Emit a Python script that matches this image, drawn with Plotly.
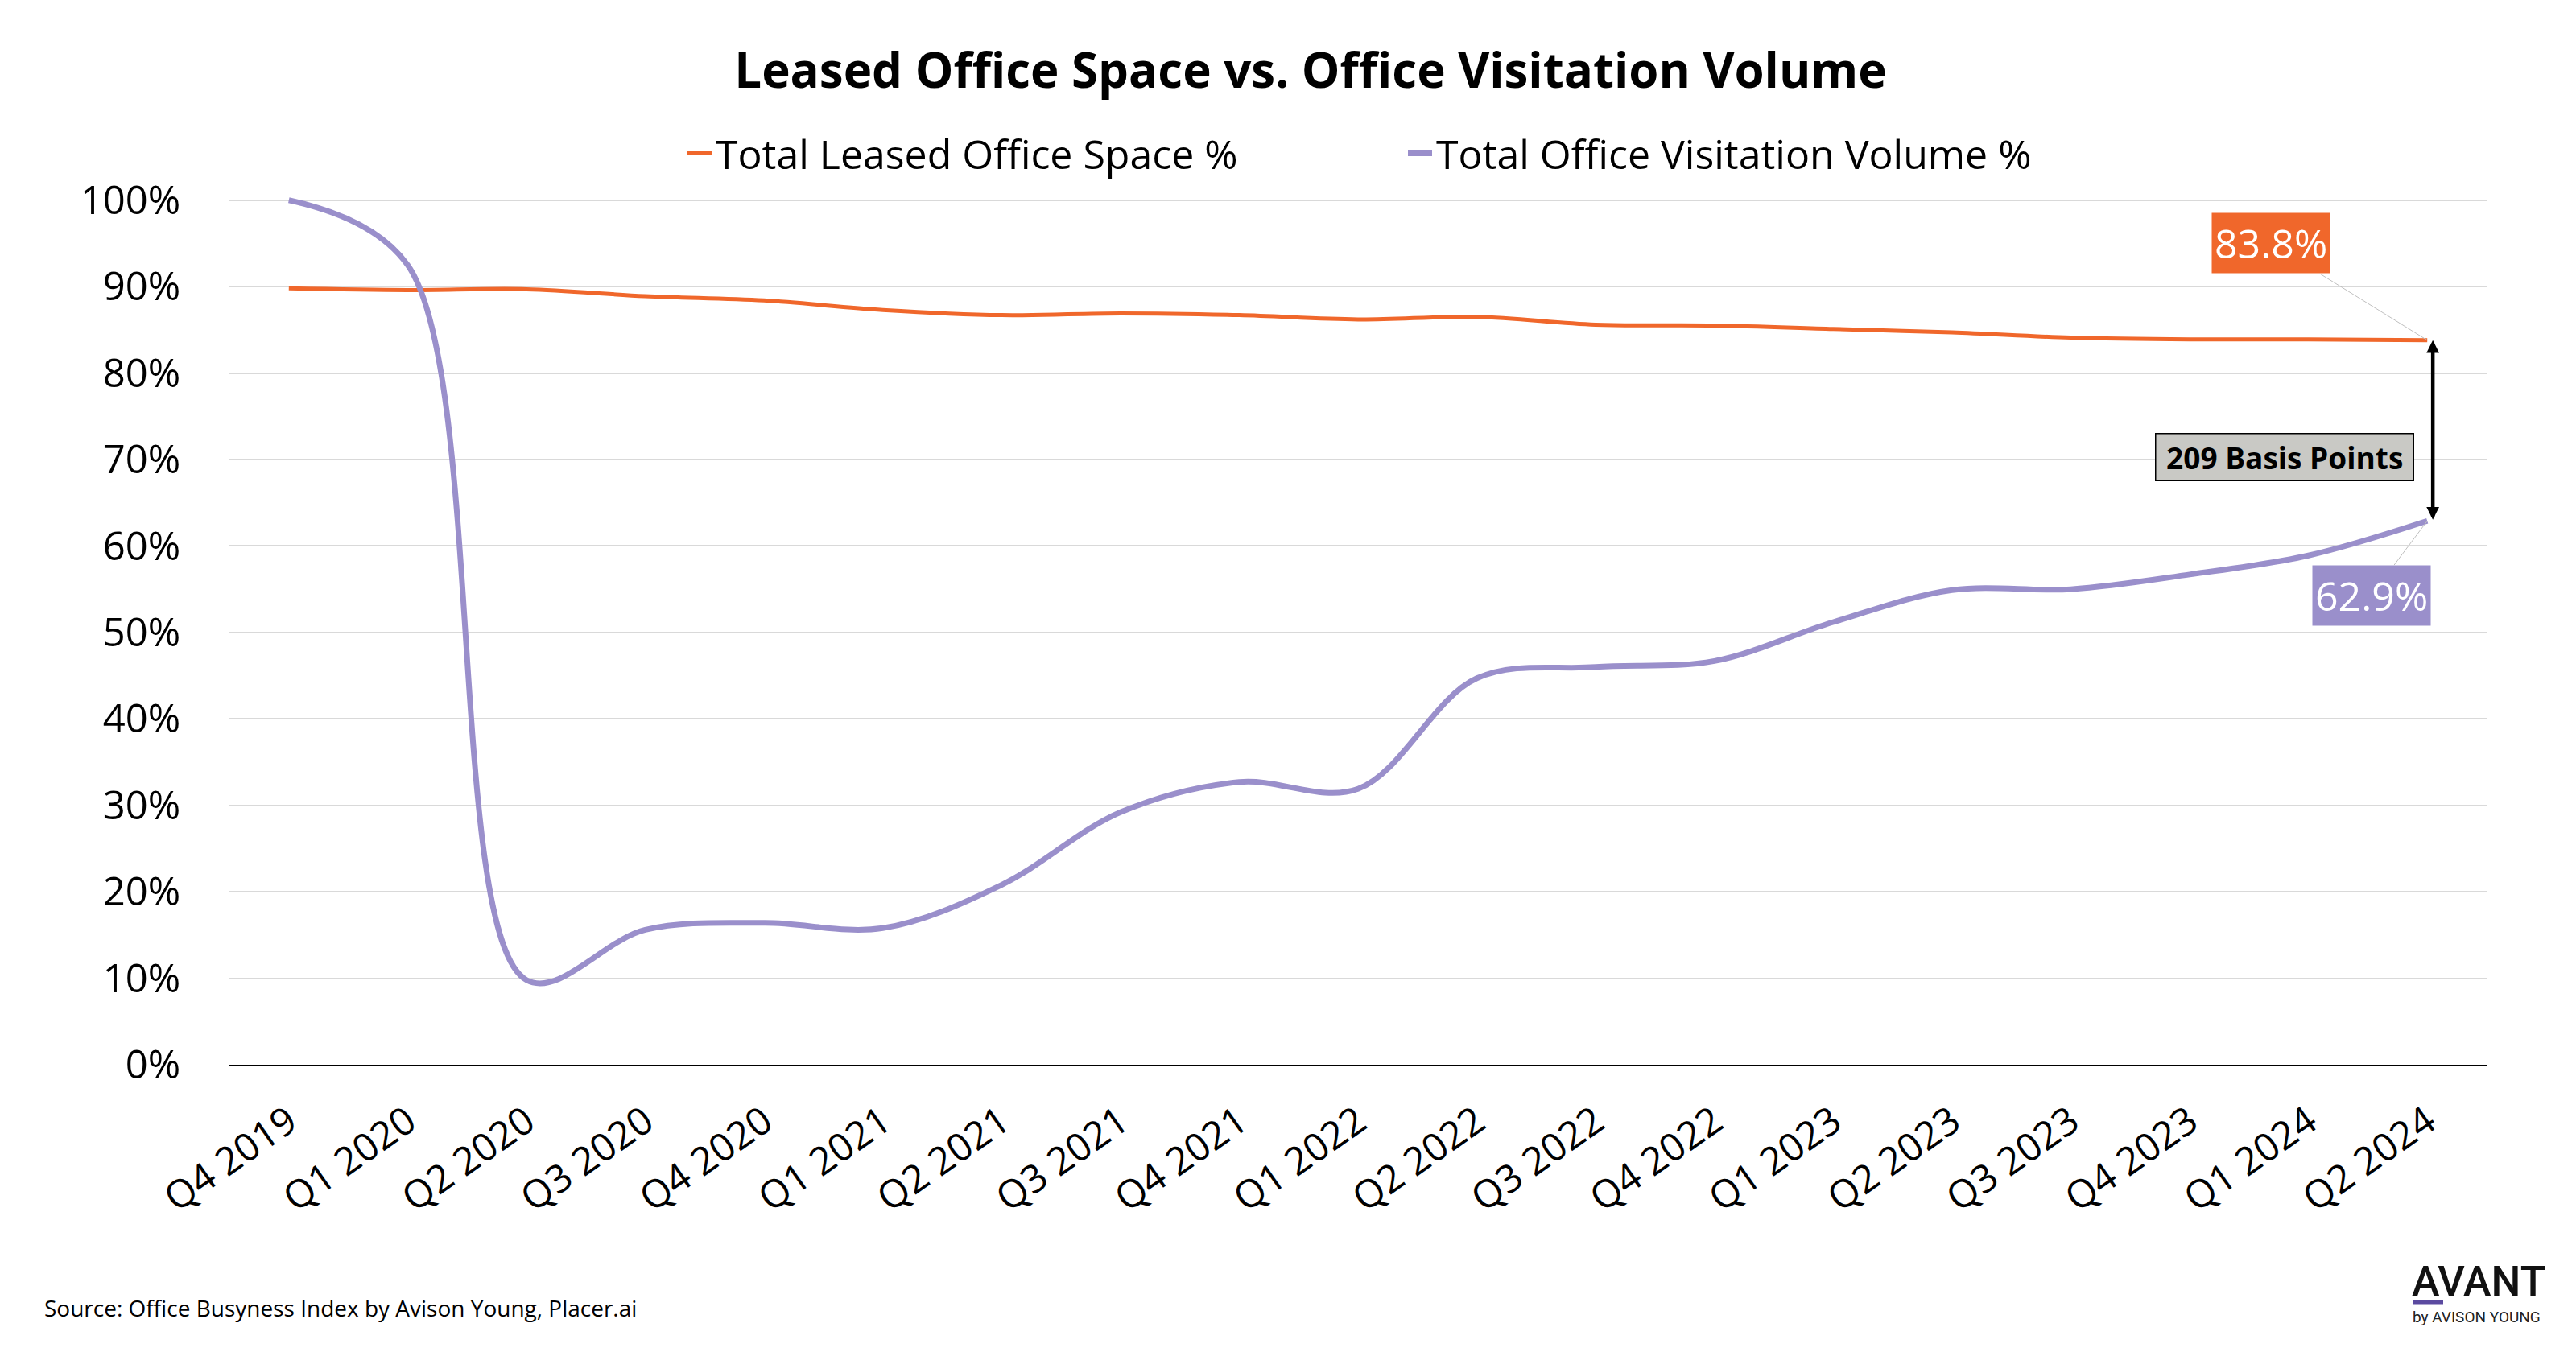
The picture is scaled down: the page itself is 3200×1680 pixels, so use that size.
import plotly.graph_objects as go

categories = ["Q4 2019", "Q1 2020", "Q2 2020", "Q3 2020", "Q4 2020", "Q1 2021", "Q2 2021",
              "Q3 2021", "Q4 2021", "Q1 2022", "Q2 2022", "Q3 2022", "Q4 2022", "Q1 2023",
              "Q2 2023", "Q3 2023", "Q4 2023", "Q1 2024", "Q2 2024"]
leased_pct = [89.8, 89.6, 89.7, 88.9, 88.4, 87.3, 86.7, 86.9, 86.7, 86.2, 86.5, 85.6, 85.5,
              85.1, 84.7, 84.1, 83.9, 83.9, 83.8]
visitation_pct = [100.0, 92.5, 9.8, 15.6, 16.4, 15.8, 20.8, 29.2, 32.7, 31.9, 44.7, 46.0, 46.7,
                  51.2, 54.9, 55.0, 56.7, 58.9, 62.9]
y_ticks = [0, 10, 20, 30, 40, 50, 60, 70, 80, 90, 100]
gap_label = "209 Basis Points"

ORANGE = "#F0672B"
PURPLE = "#9A8FCB"
FONT = "Open Sans"

# the page adds an 8px body margin; the figure is sized so the page is 3200x1680
OFF = 8
W, H = 3200 - 2 * OFF, 1680 - 2 * OFF
# plot area in reference (page) pixels
PL, PR, PT100, PB0 = 285, 3089, 248.4, 1323.4
YMAX = 101
unit = (PB0 - PT100) / 100.0
PTOP = PT100 - unit * (YMAX - 100)
L = PL - OFF
R = W - (PR - OFF)
T = PTOP - OFF
B = H - (PB0 - OFF)
PW, PH = W - L - R, H - T - B


def px(xp):  # page pixel x -> paper fraction
    return (xp - OFF - L) / PW


def py(yp):  # page pixel y -> paper fraction
    return (H - B - (yp - OFF)) / PH


fig = go.Figure()
fig.add_trace(go.Scatter(
    x=categories, y=leased_pct, mode="lines", name="Total Leased Office Space %",
    line=dict(color=ORANGE, width=5, shape="spline", smoothing=1.0),
))
fig.add_trace(go.Scatter(
    x=categories, y=visitation_pct, mode="lines", name="Total Office Visitation Volume %",
    line=dict(color=PURPLE, width=7, shape="spline", smoothing=1.0),
))

last = len(categories) - 1
annotations = [
    # end labels
    dict(x=last, y=leased_pct[-1], xref="x", yref="y", ax=16.685, ay=95.0,
         axref="x", ayref="y", text=f"{leased_pct[-1]:.1f}%", showarrow=True,
         arrowhead=0, arrowwidth=1, arrowcolor="#BFBFBF", standoff=0,
         font=dict(family=FONT, size=50, color="white"), bgcolor=ORANGE, borderpad=3),
    dict(x=last, y=visitation_pct[-1], xref="x", yref="y", ax=17.53, ay=54.3,
         axref="x", ayref="y", text=f"{visitation_pct[-1]:.1f}%", showarrow=True,
         arrowhead=0, arrowwidth=1, arrowcolor="#BFBFBF", standoff=0,
         font=dict(family=FONT, size=50, color="white"), bgcolor=PURPLE, borderpad=3),
    # double-headed gap arrow
    dict(x=last + 0.047, y=leased_pct[-1], xref="x", yref="y",
         ax=last + 0.047, ay=visitation_pct[-1], axref="x", ayref="y",
         text="", showarrow=True, arrowhead=2, startarrowhead=2, arrowside="end+start",
         arrowwidth=4.5, arrowsize=0.7, startarrowsize=0.7, arrowcolor="black",
         standoff=0, startstandoff=0),
    # gap label
    dict(x=16.80, y=70.26, xref="x", yref="y", text=f"<b>&nbsp;{gap_label}&nbsp;</b>",
         showarrow=False, font=dict(family=FONT, size=37, color="black"), bgcolor="#C9C9C5",
         bordercolor="black", borderwidth=1.5, borderpad=3),
    # source
    dict(x=px(53), y=py(1626), xref="paper", yref="paper", xanchor="left", yanchor="middle",
         text="Source: Office Busyness Index by Avison Young, Placer.ai", showarrow=False,
         font=dict(family=FONT, size=28, color="black")),
    # logo
    dict(x=px(2994), y=py(1593), xref="paper", yref="paper", xanchor="left", yanchor="middle",
         text="AVANT", showarrow=False,
         font=dict(family="Roboto", size=52, color="#111111", weight=500)),
    dict(x=px(2995), y=py(1637), xref="paper", yref="paper", xanchor="left", yanchor="middle",
         text="by AVISON YOUNG", showarrow=False,
         font=dict(family="Roboto", size=19, color="#222222")),
]

shapes = [
    dict(type="rect", xref="paper", yref="paper", x0=px(2997), x1=px(3035),
         y0=py(1621), y1=py(1616), fillcolor="#5B4AA0", line=dict(width=0)),
]

fig.update_layout(
    width=W, height=H,
    margin=dict(l=L, r=R, t=T, b=B),
    paper_bgcolor="white", plot_bgcolor="white",
    font=dict(family=FONT, color="black"),
    title=dict(text="<b>Leased Office Space vs. Office Visitation Volume</b>",
               x=(1628 - OFF) / W, xanchor="center", y=1 - (88 - OFF) / H, yanchor="middle",
               font=dict(family=FONT, size=60, color="black")),
    legend=dict(orientation="h", x=px(849), xanchor="left", y=py(190), yanchor="middle",
                font=dict(family=FONT, size=50, color="black"), itemwidth=30,
                entrywidth=850, bgcolor="rgba(0,0,0,0)"),
    annotations=annotations,
    shapes=shapes,
    showlegend=True,
)
fig.update_xaxes(
    type="category", range=[-0.5, len(categories) - 0.5], showgrid=False,
    showline=True, linecolor="black", linewidth=1.5, ticks="outside", ticklen=22,
    tickcolor="rgba(0,0,0,0)", tickangle=-35,
    tickfont=dict(family=FONT, size=48, color="black"), zeroline=False,
)
fig.update_yaxes(
    range=[0, YMAX], tickvals=y_ticks, ticktext=[f"{v}%" for v in y_ticks],
    showgrid=True, gridcolor="#D9D9D9", gridwidth=1.5, zeroline=False, showline=False,
    ticks="outside", ticklen=50, tickcolor="rgba(0,0,0,0)",
    tickfont=dict(family=FONT, size=49, color="black"),
)

fig.write_html("out.html")
